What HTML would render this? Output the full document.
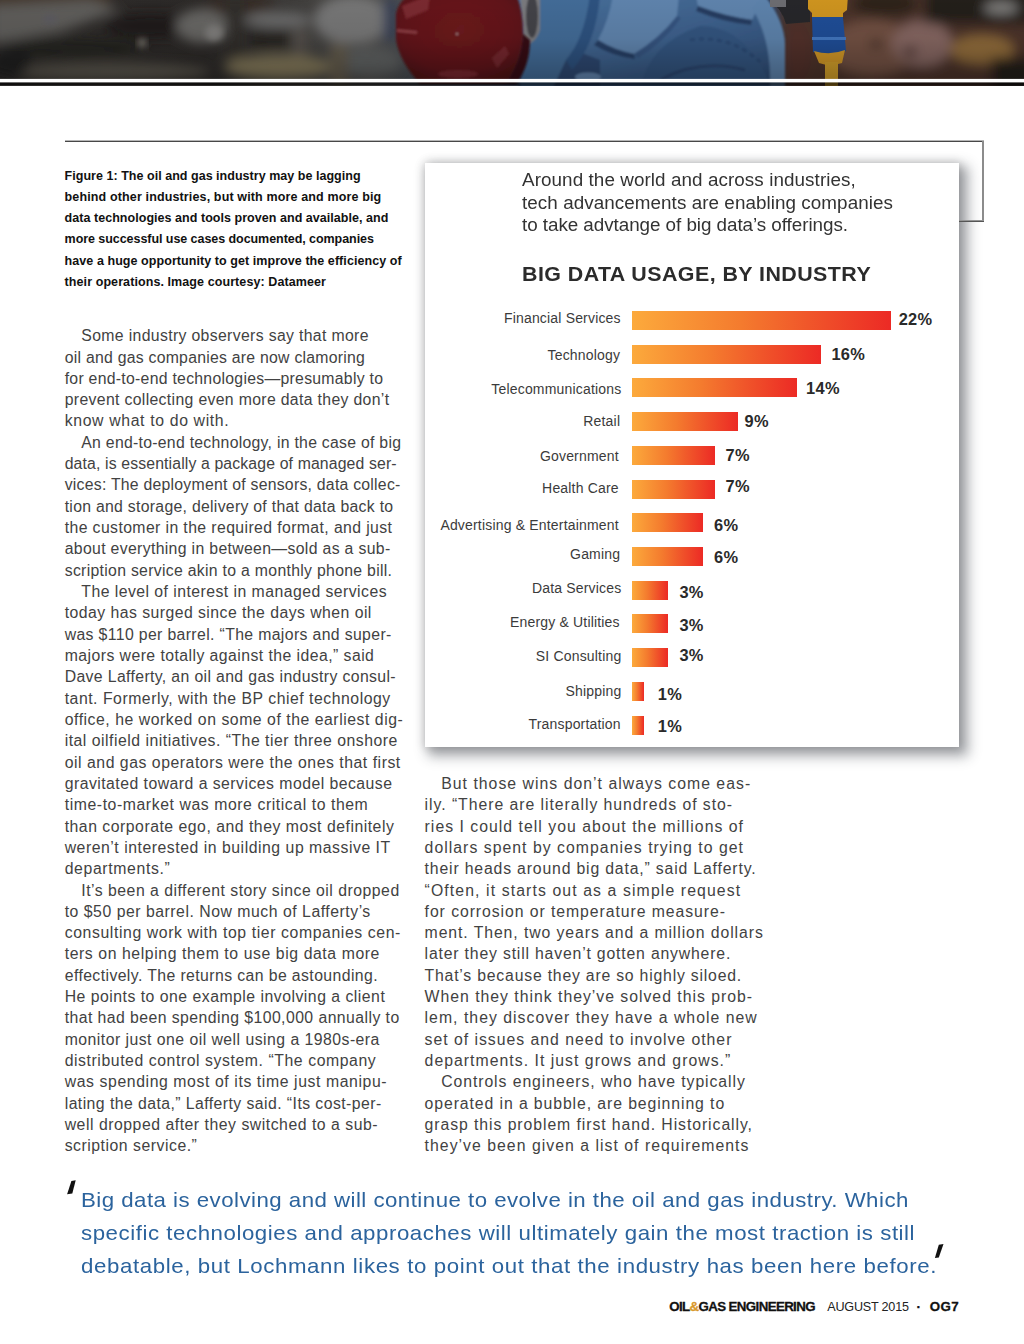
<!DOCTYPE html>
<html lang="en"><head><meta charset="utf-8"><title>Oil &amp; Gas Engineering - OG7</title>
<style>
html,body{margin:0;padding:0;background:#fff}
body{width:1024px;height:1344px;position:relative;overflow:hidden;font-family:"Liberation Sans",sans-serif}
.photo{position:absolute;left:0;top:0;display:block}
.b,.c,.q,.l,.p,.i,.t,.f{position:absolute;white-space:pre;margin:0}
.b{font-size:15.8px;line-height:1.2;color:#424242}
.c{font-size:12.5px;line-height:1.2;font-weight:700;color:#111}
.q{font-size:21.0px;line-height:1.2;color:#2b639d;transform-origin:0 0;transform:scaleX(1.06)}
.l{font-size:14.0px;line-height:1.2;color:#3b3b3b}
.p{font-size:16.4px;line-height:1.2;font-weight:700;color:#2a2a2a}
.i{font-size:18.3px;line-height:1.2;color:#333;transform-origin:0 0;transform:scaleX(1.03)}
.t{font-size:20.4px;line-height:1.2;font-weight:700;color:#2b2b2b;transform-origin:0 0;transform:scaleX(1.05)}
.bar{position:absolute;height:19px;background:linear-gradient(90deg,#fcaa3c 0%,#f47b2e 42%,#f0562a 68%,#ec2a25 100%)}
.frame{position:absolute;left:65px;top:140px;width:919px;height:2px;background:linear-gradient(#b6b6b6 50%,#484848 50%)}
.framer{position:absolute;left:982px;top:141px;width:2px;height:81px;background:#8c8c8c}
.frameb{position:absolute;left:959px;top:220px;width:25px;height:2px;background:linear-gradient(#949494 50%,#555 50%)}
.chart{position:absolute;left:425px;top:162.5px;width:534px;height:584.5px;background:#fff;box-shadow:0 0 9px 1px rgba(0,0,0,.16),6px 6px 12px 3px rgba(40,45,55,.42)}
.qm{position:absolute;left:0;top:0}
</style></head>
<body>
<svg class="photo" width="1024" height="86" viewBox="0 0 1024 86">
<defs>
<filter id="b8" x="-20%" y="-60%" width="140%" height="220%"><feGaussianBlur stdDeviation="6"/></filter>
<filter id="b4" x="-20%" y="-60%" width="140%" height="220%"><feGaussianBlur stdDeviation="3"/></filter>
<filter id="b2" x="-20%" y="-60%" width="140%" height="220%"><feGaussianBlur stdDeviation="1.3"/></filter>
<filter id="b1" x="-20%" y="-60%" width="140%" height="220%"><feGaussianBlur stdDeviation="0.7"/></filter>
<linearGradient id="bg" x1="0" x2="1" y1="0" y2="0">
<stop offset="0" stop-color="#34312f"/><stop offset=".2" stop-color="#302d2b"/><stop offset=".36" stop-color="#565553"/>
<stop offset=".5" stop-color="#3a4a66"/><stop offset=".76" stop-color="#3a4a66"/><stop offset=".8" stop-color="#4e352e"/><stop offset="1" stop-color="#2e2824"/>
</linearGradient>
<radialGradient id="red" cx=".5" cy=".4" r=".75"><stop offset="0" stop-color="#771b20"/><stop offset=".6" stop-color="#6b181d"/><stop offset="1" stop-color="#481014"/></radialGradient>
<linearGradient id="blue" x1="0" x2="1" y1="0" y2="1"><stop offset="0" stop-color="#507baa"/><stop offset=".5" stop-color="#446b9b"/><stop offset="1" stop-color="#30507d"/></linearGradient>
<linearGradient id="shade" x1="0" x2="0" y1="0" y2="1"><stop offset="0" stop-color="#000" stop-opacity=".10"/><stop offset=".45" stop-color="#000" stop-opacity=".16"/><stop offset="1" stop-color="#000" stop-opacity=".38"/></linearGradient>
<clipPath id="cp"><rect x="0" y="0" width="1024" height="85.8"/></clipPath>
</defs>
<g clip-path="url(#cp)">
<rect width="1024" height="86" fill="url(#bg)"/>
<!-- left blurred background: pipes -->
<g filter="url(#b8)">
<rect x="-20" y="-12" width="130" height="22" fill="#4a3a2d"/>
<path d="M-10,6 L90,0 L120,10 L60,32 L-10,44 Z" fill="#686663"/>
<ellipse cx="150" cy="26" rx="46" ry="13" fill="#201e1d"/>
<ellipse cx="202" cy="26" rx="26" ry="17" fill="#716f6d"/>
<ellipse cx="75" cy="48" rx="70" ry="10" fill="#282523"/>
<ellipse cx="110" cy="72" rx="100" ry="9" fill="#645f54"/>
<ellipse cx="10" cy="62" rx="22" ry="14" fill="#242120"/>
<ellipse cx="240" cy="6" rx="36" ry="9" fill="#3a2f28"/>
<ellipse cx="278" cy="67" rx="54" ry="12" fill="#8f8362"/>
<rect x="226" y="-5" width="18" height="62" fill="#34302d"/>
<rect x="248" y="30" width="42" height="18" fill="#2c2622"/>
<ellipse cx="278" cy="20" rx="34" ry="8" fill="#757575"/>
<ellipse cx="352" cy="20" rx="38" ry="24" fill="#828282"/>
<ellipse cx="368" cy="62" rx="34" ry="14" fill="#676a6b"/>
<rect x="292" y="28" width="16" height="28" fill="#5c5651"/>
<rect x="330" y="44" width="18" height="44" fill="#6c6452"/>
<rect x="384" y="0" width="10" height="40" fill="#2d3e5e"/>
</g>
<ellipse cx="50" cy="19" rx="7" ry="5" fill="#65646a" filter="url(#b4)"/>
<ellipse cx="142" cy="43" rx="5" ry="5" fill="#77726b" filter="url(#b4)"/>
<ellipse cx="214" cy="33" rx="9" ry="8" fill="#8a8886" filter="url(#b4)"/>
<!-- right blurred background -->
<g filter="url(#b8)">
<rect x="780" y="-10" width="260" height="110" fill="#52382f"/>
<ellipse cx="872" cy="48" rx="44" ry="28" fill="#7d5848"/>
<ellipse cx="922" cy="44" rx="30" ry="23" fill="#92706b"/>
<ellipse cx="982" cy="50" rx="32" ry="14" fill="#9e7640"/>
<rect x="925" y="-10" width="110" height="34" fill="#26221f"/>
<ellipse cx="1001" cy="8" rx="17" ry="6" fill="#908e8c"/>
<rect x="992" y="58" width="50" height="40" fill="#28211e"/>
<ellipse cx="798" cy="52" rx="14" ry="30" fill="#5a362e"/>
<ellipse cx="885" cy="4" rx="34" ry="13" fill="#33251f"/>
<ellipse cx="876" cy="44" rx="6" ry="4" fill="#33211d"/>
<ellipse cx="910" cy="52" rx="6" ry="5" fill="#452a26"/>
</g>
<!-- blue transmitter -->
<g filter="url(#b2)">
<path d="M515,-5 L764,-5 Q784,20 785,44 L785,90 L520,90 Z" fill="url(#blue)"/>
<path d="M520,-5 L546,-5 L546,40 Q536,50 524,42 Z" fill="#86868a"/>
<ellipse cx="532" cy="16" rx="6" ry="22" fill="#4a4a50"/>
<path d="M522,44 Q536,52 548,40 L600,60 L600,90 L518,90 Z" fill="#324f7c"/>
<path d="M540,-5 L590,-5 Q584,40 566,60 L552,90 L520,90 L522,46 Q536,44 540,30 Z" fill="#4a76a6"/>
<path d="M566,60 Q584,40 590,-5 L600,-5 Q596,44 572,70 Z" fill="#335a8c"/>
<path d="M640,90 Q648,44 700,26 Q748,26 772,90 Z" fill="#395d8c"/>
<path d="M613,-5 L679,-5 L677,16 Q660,38 634,54 Q614,50 598,40 Q609,20 613,-5 Z" fill="#6890bd"/>
<path d="M598,40 Q614,50 634,54 L635,59 Q612,56 594,45 Z" fill="#2a446e"/>
<path d="M634,54 Q660,38 677,16 L681,18 Q664,42 638,58 Z" fill="#3a5c8c"/>
<path d="M696,-5 L764,-5 L752,20 Q724,16 698,6 Z" fill="#6890bd"/>
<path d="M698,6 Q724,16 752,20 L751,25 Q722,22 696,11 Z" fill="#29436b"/>
<path d="M764,-5 Q784,20 785,44 L785,90 L770,90 Q772,40 752,8 Z" fill="#668fbc"/>
<ellipse cx="588" cy="77" rx="13" ry="4.5" fill="#6a90bd"/>
<path d="M660,80 Q700,58 745,70" stroke="#2d4c78" stroke-width="3" fill="none"/>
<path d="M690,40 Q730,34 760,62" stroke="#2f507e" stroke-width="3" fill="none" stroke-dasharray="5 4"/>
</g>
<!-- red cap -->
<g filter="url(#b2)">
<path d="M396,14 Q398,2 410,-6 L516,-6 Q523,10 523,34 Q522,60 506,84 L420,84 Q400,62 396,40 Z" fill="url(#red)"/>
<path d="M402,6 L430,-5 L428,10 L406,19 Z" fill="#862d35"/>
<ellipse cx="458" cy="74" rx="20" ry="4" fill="#822c33"/>
<path d="M492,58 L505,46 L509,54 L497,68 Z" fill="#802c33"/>
<rect x="397" y="30" width="20" height="3" fill="#9a4249" transform="rotate(6 407 32)"/>
<circle cx="457" cy="34" r="1.2" fill="#b58a8e"/>
<path d="M506,84 Q522,60 523,34 L530,40 Q530,66 516,84 Z" fill="#3a1014"/>
</g>
<!-- yellow/blue connector -->
<g filter="url(#b1)">
<path d="M764,-5 L810,-5 L810,22 L786,24 Q782,8 764,-5 Z" fill="#2b2b2e"/>
<rect x="770" y="-2" width="16" height="9" fill="#77777b"/>
<path d="M808,-5 L848,-5 L847,10 L843,13 L843,18 L812,18 L812,13 L808,9 Z" fill="#e3a324"/>
<path d="M812,17 L843,17 L846,51 Q830,56 813,52 Z" fill="#2355a6"/>
<rect x="812" y="37" width="34" height="3" fill="#4a82d2"/>
<path d="M814,51 Q830,56 845,50 L842,63 Q830,67 819,63 Z" fill="#e4a52a"/>
<rect x="825" y="62" width="13" height="30" fill="#e6ae2e"/>
</g>
<rect x="0" y="0" width="1024" height="86" fill="url(#shade)"/>
<rect x="0" y="82" width="1024" height="4" fill="#000" opacity=".5"/>
<rect x="0" y="78.9" width="1024" height="3.5" fill="#fff"/>
</g>
</svg>

<div class="frame"></div>
<div class="framer"></div>
<div class="chart"></div>
<div class="frameb"></div>
<!-- chart contents -->
<div class="i" style="left:522.00px;top:169px;letter-spacing:0.078px;">Around the world and across industries,</div>
<div class="i" style="left:522.00px;top:192px;letter-spacing:0.061px;">tech advancements are enabling companies</div>
<div class="i" style="left:522.00px;top:214px;letter-spacing:-0.049px;">to take advtange of big data’s offerings.</div>
<div class="t" style="left:522.00px;top:262px;letter-spacing:0.413px;">BIG DATA USAGE, BY INDUSTRY</div>
<div class="l" style="left:503.93px;top:310px;letter-spacing:0.180px;">Financial Services</div>
<div class="bar" style="left:632.20px;top:310.70px;width:258.50px"></div>
<div class="p" style="left:898.70px;top:310px;letter-spacing:0.300px;">22%</div>
<div class="l" style="left:547.55px;top:347px;letter-spacing:0.180px;">Technology</div>
<div class="bar" style="left:632.20px;top:344.70px;width:188.40px"></div>
<div class="p" style="left:831.40px;top:345px;letter-spacing:0.300px;">16%</div>
<div class="l" style="left:491.30px;top:381px;letter-spacing:0.180px;">Telecommunications</div>
<div class="bar" style="left:632.20px;top:378.20px;width:164.60px"></div>
<div class="p" style="left:806.10px;top:379px;letter-spacing:0.300px;">14%</div>
<div class="l" style="left:583.30px;top:413px;letter-spacing:0.180px;">Retail</div>
<div class="bar" style="left:632.20px;top:412.20px;width:105.80px"></div>
<div class="p" style="left:744.60px;top:412px;letter-spacing:0.300px;">9%</div>
<div class="l" style="left:539.93px;top:448px;letter-spacing:0.180px;">Government</div>
<div class="bar" style="left:632.20px;top:446.00px;width:82.40px"></div>
<div class="p" style="left:725.60px;top:446px;letter-spacing:0.300px;">7%</div>
<div class="l" style="left:542.10px;top:480px;letter-spacing:0.180px;">Health Care</div>
<div class="bar" style="left:632.20px;top:479.50px;width:82.40px"></div>
<div class="p" style="left:725.60px;top:477px;letter-spacing:0.300px;">7%</div>
<div class="l" style="left:440.39px;top:517px;letter-spacing:0.180px;">Advertising &amp; Entertainment</div>
<div class="bar" style="left:632.20px;top:513.20px;width:70.80px"></div>
<div class="p" style="left:714.00px;top:516px;letter-spacing:0.300px;">6%</div>
<div class="l" style="left:570.07px;top:546px;letter-spacing:0.180px;">Gaming</div>
<div class="bar" style="left:632.20px;top:547.00px;width:70.80px"></div>
<div class="p" style="left:714.00px;top:548px;letter-spacing:0.300px;">6%</div>
<div class="l" style="left:531.88px;top:580px;letter-spacing:0.180px;">Data Services</div>
<div class="bar" style="left:632.20px;top:580.80px;width:35.40px"></div>
<div class="p" style="left:679.40px;top:583px;letter-spacing:0.300px;">3%</div>
<div class="l" style="left:509.95px;top:614px;letter-spacing:0.180px;">Energy &amp; Utilities</div>
<div class="bar" style="left:632.20px;top:614.30px;width:35.40px"></div>
<div class="p" style="left:679.40px;top:616px;letter-spacing:0.300px;">3%</div>
<div class="l" style="left:535.76px;top:648px;letter-spacing:0.180px;">SI Consulting</div>
<div class="bar" style="left:632.20px;top:648.30px;width:35.40px"></div>
<div class="p" style="left:679.40px;top:646px;letter-spacing:0.300px;">3%</div>
<div class="l" style="left:565.44px;top:683px;letter-spacing:0.180px;">Shipping</div>
<div class="bar" style="left:632.20px;top:682.10px;width:11.80px"></div>
<div class="p" style="left:657.80px;top:685px;letter-spacing:0.300px;">1%</div>
<div class="l" style="left:528.51px;top:716px;letter-spacing:0.180px;">Transportation</div>
<div class="bar" style="left:632.20px;top:715.80px;width:11.80px"></div>
<div class="p" style="left:657.80px;top:717px;letter-spacing:0.300px;">1%</div>
<!-- caption -->
<div class="c" style="left:64.60px;top:169px;letter-spacing:0.031px;">Figure 1: The oil and gas industry may be lagging</div>
<div class="c" style="left:64.60px;top:190px;letter-spacing:0.137px;">behind other industries, but with more and more big</div>
<div class="c" style="left:64.60px;top:211px;letter-spacing:0.042px;">data technologies and tools proven and available, and</div>
<div class="c" style="left:64.60px;top:232px;letter-spacing:-0.057px;">more successful use cases documented, companies</div>
<div class="c" style="left:64.60px;top:254px;letter-spacing:0.066px;">have a huge opportunity to get improve the efficiency of</div>
<div class="c" style="left:64.60px;top:275px;letter-spacing:0.087px;">their operations. Image courtesy: Datameer</div>
<!-- column 1 -->
<div class="b" style="left:81.30px;top:327px;letter-spacing:0.344px;">Some industry observers say that more</div>
<div class="b" style="left:64.70px;top:349px;letter-spacing:0.251px;">oil and gas companies are now clamoring</div>
<div class="b" style="left:64.70px;top:370px;letter-spacing:0.274px;">for end-to-end technologies—presumably to</div>
<div class="b" style="left:64.70px;top:391px;letter-spacing:0.335px;">prevent collecting even more data they don’t</div>
<div class="b" style="left:64.70px;top:412px;letter-spacing:0.648px;">know what to do with.</div>
<div class="b" style="left:81.30px;top:434px;letter-spacing:0.273px;">An end-to-end technology, in the case of big</div>
<div class="b" style="left:64.70px;top:455px;letter-spacing:0.136px;">data, is essentially a package of managed ser-</div>
<div class="b" style="left:64.70px;top:476px;letter-spacing:0.245px;">vices: The deployment of sensors, data collec-</div>
<div class="b" style="left:64.70px;top:498px;letter-spacing:0.286px;">tion and storage, delivery of that data back to</div>
<div class="b" style="left:64.70px;top:519px;letter-spacing:0.394px;">the customer in the required format, and just</div>
<div class="b" style="left:64.70px;top:540px;letter-spacing:0.335px;">about everything in between—sold as a sub-</div>
<div class="b" style="left:64.70px;top:562px;letter-spacing:0.301px;">scription service akin to a monthly phone bill.</div>
<div class="b" style="left:81.30px;top:583px;letter-spacing:0.454px;">The level of interest in managed services</div>
<div class="b" style="left:64.70px;top:604px;letter-spacing:0.456px;">today has surged since the days when oil</div>
<div class="b" style="left:64.70px;top:626px;letter-spacing:0.362px;">was $110 per barrel. “The majors and super-</div>
<div class="b" style="left:64.70px;top:647px;letter-spacing:0.442px;">majors were totally against the idea,” said</div>
<div class="b" style="left:64.70px;top:668px;letter-spacing:0.361px;">Dave Lafferty, an oil and gas industry consul-</div>
<div class="b" style="left:64.70px;top:690px;letter-spacing:0.518px;">tant. Formerly, with the BP chief technology</div>
<div class="b" style="left:64.70px;top:711px;letter-spacing:0.534px;">office, he worked on some of the earliest dig-</div>
<div class="b" style="left:64.70px;top:732px;letter-spacing:0.500px;">ital oilfield initiatives. “The tier three onshore</div>
<div class="b" style="left:64.70px;top:754px;letter-spacing:0.530px;">oil and gas operators were the ones that first</div>
<div class="b" style="left:64.70px;top:775px;letter-spacing:0.466px;">gravitated toward a services model because</div>
<div class="b" style="left:64.70px;top:796px;letter-spacing:0.569px;">time-to-market was more critical to them</div>
<div class="b" style="left:64.70px;top:818px;letter-spacing:0.506px;">than corporate ego, and they most definitely</div>
<div class="b" style="left:64.70px;top:839px;letter-spacing:0.525px;">weren’t interested in building up massive IT</div>
<div class="b" style="left:64.70px;top:860px;letter-spacing:0.636px;">departments.”</div>
<div class="b" style="left:81.30px;top:882px;letter-spacing:0.492px;">It’s been a different story since oil dropped</div>
<div class="b" style="left:64.70px;top:903px;letter-spacing:0.520px;">to $50 per barrel. Now much of Lafferty’s</div>
<div class="b" style="left:64.70px;top:924px;letter-spacing:0.597px;">consulting work with top tier companies cen-</div>
<div class="b" style="left:64.70px;top:945px;letter-spacing:0.579px;">ters on helping them to use big data more</div>
<div class="b" style="left:64.70px;top:967px;letter-spacing:0.404px;">effectively. The returns can be astounding.</div>
<div class="b" style="left:64.70px;top:988px;letter-spacing:0.492px;">He points to one example involving a client</div>
<div class="b" style="left:64.70px;top:1009px;letter-spacing:0.435px;">that had been spending $100,000 annually to</div>
<div class="b" style="left:64.70px;top:1031px;letter-spacing:0.468px;">monitor just one oil well using a 1980s-era</div>
<div class="b" style="left:64.70px;top:1052px;letter-spacing:0.568px;">distributed control system. “The company</div>
<div class="b" style="left:64.70px;top:1073px;letter-spacing:0.592px;">was spending most of its time just manipu-</div>
<div class="b" style="left:64.70px;top:1095px;letter-spacing:0.435px;">lating the data,” Lafferty said. “Its cost-per-</div>
<div class="b" style="left:64.70px;top:1116px;letter-spacing:0.521px;">well dropped after they switched to a sub-</div>
<div class="b" style="left:64.70px;top:1137px;letter-spacing:0.516px;">scription service.”</div>
<!-- column 2 -->
<div class="b" style="left:441.20px;top:775px;letter-spacing:1.022px;">But those wins don’t always come eas-</div>
<div class="b" style="left:424.60px;top:796px;letter-spacing:0.954px;">ily. “There are literally hundreds of sto-</div>
<div class="b" style="left:424.60px;top:818px;letter-spacing:1.016px;">ries I could tell you about the millions of</div>
<div class="b" style="left:424.60px;top:839px;letter-spacing:1.027px;">dollars spent by companies trying to get</div>
<div class="b" style="left:424.60px;top:860px;letter-spacing:0.829px;">their heads around big data,” said Lafferty.</div>
<div class="b" style="left:424.60px;top:882px;letter-spacing:1.105px;">“Often, it starts out as a simple request</div>
<div class="b" style="left:424.60px;top:903px;letter-spacing:0.928px;">for corrosion or temperature measure-</div>
<div class="b" style="left:424.60px;top:924px;letter-spacing:0.910px;">ment. Then, two years and a million dollars</div>
<div class="b" style="left:424.60px;top:945px;letter-spacing:0.815px;">later they still haven’t gotten anywhere.</div>
<div class="b" style="left:424.60px;top:967px;letter-spacing:0.787px;">That’s because they are so highly siloed.</div>
<div class="b" style="left:424.60px;top:988px;letter-spacing:0.985px;">When they think they’ve solved this prob-</div>
<div class="b" style="left:424.60px;top:1009px;letter-spacing:1.018px;">lem, they discover they have a whole new</div>
<div class="b" style="left:424.60px;top:1031px;letter-spacing:0.979px;">set of issues and need to involve other</div>
<div class="b" style="left:424.60px;top:1052px;letter-spacing:1.024px;">departments. It just grows and grows.”</div>
<div class="b" style="left:441.20px;top:1073px;letter-spacing:0.920px;">Controls engineers, who have typically</div>
<div class="b" style="left:424.60px;top:1095px;letter-spacing:0.904px;">operated in a bubble, are beginning to</div>
<div class="b" style="left:424.60px;top:1116px;letter-spacing:0.924px;">grasp this problem first hand. Historically,</div>
<div class="b" style="left:424.60px;top:1137px;letter-spacing:1.026px;">they’ve been given a list of requirements</div>
<!-- pull quote -->
<div class="q" style="left:80.50px;top:1187px;letter-spacing:0.441px;">Big data is evolving and will continue to evolve in the oil and gas industry. Which</div>
<div class="q" style="left:80.50px;top:1220px;letter-spacing:0.516px;">specific technologies and approaches will ultimately gain the most traction is still</div>
<div class="q" style="left:80.50px;top:1253px;letter-spacing:0.566px;">debatable, but Lochmann likes to point out that the industry has been here before.</div>
<svg class="qm" width="1024" height="1344" viewBox="0 0 1024 1344" style="pointer-events:none">
<polygon points="71.4,1181 75.7,1180.2 72.3,1193.4 67.1,1194.2" fill="#111"/>
<polygon points="938.8,1244.8 943.5,1244.1 938.8,1257.5 934.9,1258" fill="#111"/>
</svg>
<!-- footer -->
<div class="f" style="left:669.30px;top:1299px;letter-spacing:-0.620px;font-weight:700;font-size:13.3px;line-height:1.2;color:#111;-webkit-text-stroke:0.3px #111;">OIL<span style="color:#d9982b;-webkit-text-stroke-color:#d9982b">&amp;</span>GAS ENGINEERING</div>
<div class="f" style="left:827.20px;top:1300px;letter-spacing:-0.200px;font-size:12.6px;line-height:1.2;color:#222;">AUGUST 2015</div>
<div class="f" style="left:916.60px;top:1299px;letter-spacing:0.000px;font-weight:700;font-size:13.3px;line-height:1.2;color:#111;-webkit-text-stroke:0.3px #111;">·</div>
<div class="f" style="left:929.70px;top:1299px;letter-spacing:0.400px;font-weight:700;font-size:13.3px;line-height:1.2;color:#111;-webkit-text-stroke:0.3px #111;">OG7</div>
</body></html>
